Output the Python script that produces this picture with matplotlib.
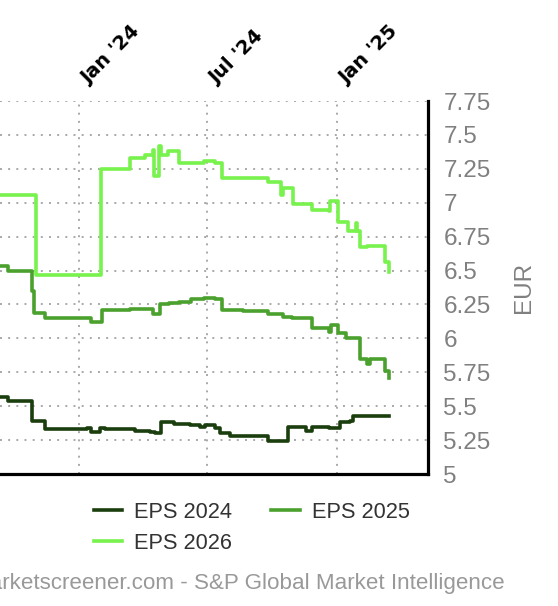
import pandas as pd
import matplotlib.pyplot as plt
import matplotlib.transforms as mtrans

# EPS estimates (EUR), step changes
eps24_dates = ["2023-09-05", "2023-09-22", "2023-10-27", "2023-11-14", "2024-01-13", "2024-01-18",
               "2024-01-31", "2024-02-07", "2024-03-20", "2024-04-11", "2024-04-18", "2024-04-26",
               "2024-05-15", "2024-06-06", "2024-06-21", "2024-06-28", "2024-07-12", "2024-07-19",
               "2024-08-02", "2024-09-25", "2024-10-23", "2024-11-18", "2024-11-27", "2024-12-21",
               "2025-01-05", "2025-01-19", "2025-01-24", "2025-03-16"]
eps24_vals = [5.57, 5.54, 5.39, 5.33, 5.34, 5.31,
              5.34, 5.33, 5.32, 5.31, 5.30, 5.38,
              5.37, 5.36, 5.35, 5.36, 5.34, 5.30,
              5.28, 5.24, 5.35, 5.32, 5.35, 5.34,
              5.38, 5.39, 5.43, 5.43]

eps25_dates = ["2023-09-05", "2023-09-22", "2023-10-26", "2023-10-29", "2023-11-14", "2024-01-18",
               "2024-02-02", "2024-03-13", "2024-04-15", "2024-04-25", "2024-05-08", "2024-05-22",
               "2024-06-08", "2024-06-26", "2024-07-12", "2024-07-22", "2024-08-20", "2024-09-25",
               "2024-10-16", "2024-10-29", "2024-11-27", "2024-12-21", "2024-12-23", "2025-01-03",
               "2025-01-14", "2025-02-03", "2025-02-12", "2025-02-17", "2025-03-10", "2025-03-16"]
eps25_vals = [6.53, 6.50, 6.35, 6.19, 6.15, 6.12,
              6.21, 6.22, 6.18, 6.25, 6.26, 6.27,
              6.29, 6.30, 6.29, 6.21, 6.20, 6.18,
              6.16, 6.15, 6.08, 6.05, 6.10, 6.04,
              6.00, 5.85, 5.81, 5.85, 5.76, 5.71]

eps26_dates = ["2023-09-05", "2023-11-01", "2024-02-01", "2024-03-13", "2024-04-04", "2024-04-15",
               "2024-04-16", "2024-04-24", "2024-04-26", "2024-05-06", "2024-05-22", "2024-06-26",
               "2024-07-12", "2024-07-22", "2024-09-25", "2024-10-14", "2024-10-17", "2024-10-30",
               "2024-11-26", "2024-12-20", "2024-12-22", "2025-01-03", "2025-01-16", "2025-01-28",
               "2025-01-30", "2025-02-03", "2025-02-12", "2025-03-10", "2025-03-16"]
eps26_vals = [7.06, 6.47, 7.25, 7.33, 7.35, 7.39,
              7.20, 7.42, 7.35, 7.38, 7.29, 7.31,
              7.29, 7.18, 7.15, 7.06, 7.11, 6.99,
              6.95, 6.94, 7.01, 6.86, 6.79, 6.85,
              6.79, 6.67, 6.68, 6.56, 6.49]

series_names = ["EPS 2024", "EPS 2025", "EPS 2026"]
series_colors = ["#1b3e0e", "#4aa12e", "#78f24c"]

y_ticks = [5, 5.25, 5.5, 5.75, 6, 6.25, 6.5, 6.75, 7, 7.25, 7.5, 7.75]
y_labels = ["5", "5.25", "5.5", "5.75", "6", "6.25", "6.5", "6.75", "7", "7.25", "7.5", "7.75"]
x_ticks = ["2024-01-01", "2024-07-01", "2025-01-01"]
x_labels = ["Jan '24", "Jul '24", "Jan '25"]

plt.rcParams["font.family"] = ["Liberation Sans", "DejaVu Sans"]

fig = plt.figure(figsize=(5.58, 6.06), dpi=100)
ax = fig.add_axes([0, 1 - 474 / 606, 428 / 558, 373 / 606])

lines = []
for d, v, name, c in zip([eps24_dates, eps25_dates, eps26_dates],
                         [eps24_vals, eps25_vals, eps26_vals],
                         series_names, series_colors):
    ln, = ax.plot(pd.to_datetime(d), v, drawstyle="steps-post", color=c, lw=2.6,
                  label=name, solid_joinstyle="round")
    lines.append(ln)

ax.set_xlim(pd.Timestamp("2023-09-11"), pd.Timestamp("2025-05-10"))
ax.set_ylim(5, 7.75)

ax.yaxis.tick_right()
ax.yaxis.set_label_position("right")
ax.set_yticks(y_ticks)
ax.set_yticklabels(y_labels)
ax.tick_params(axis="y", length=0, pad=11, labelsize=17.5, labelcolor="#808080")
ax.set_ylabel("EUR", color="#808080", fontsize=17.5, labelpad=16)

ax.xaxis.tick_top()
ax.set_xticks(pd.to_datetime(x_ticks))
ax.set_xticklabels(x_labels, rotation=45, ha="left", va="bottom", rotation_mode="anchor",
                   fontfamily="DejaVu Sans", fontweight="bold", fontsize=14)
ax.tick_params(axis="x", length=0, pad=9)
# nudge the rotated labels so they start right at the gridline
shift = mtrans.ScaledTranslation(12 / 100, 0, fig.dpi_scale_trans)
for lbl in ax.get_xticklabels():
    lbl.set_transform(lbl.get_transform() + shift)

ax.grid(True, color="#a8a8a8", lw=1.4, linestyle=(0, (1, 3.2)))
ax.set_axisbelow(True)

for s in ["left", "top"]:
    ax.spines[s].set_visible(False)
for s in ["right", "bottom"]:
    ax.spines[s].set_linewidth(2.3)
    ax.spines[s].set_color("black")

# row-major order like the original: 2024, 2025 / 2026
order = [0, 2, 1]
fig.legend([lines[i] for i in order], [series_names[i] for i in order],
           loc="center", bbox_to_anchor=(0.451, 1 - 528 / 606), ncol=2, frameon=False,
           fontsize=15.7, handlelength=1.3, handletextpad=0.55, columnspacing=1.8,
           labelspacing=0.45, labelcolor="#333333")

fig.text(505 / 558, 1 - 583 / 606, "marketscreener.com - S&P Global Market Intelligence",
         ha="right", va="center", fontsize=16.1, color="#999999")

plt.savefig("out.png", dpi=100)
